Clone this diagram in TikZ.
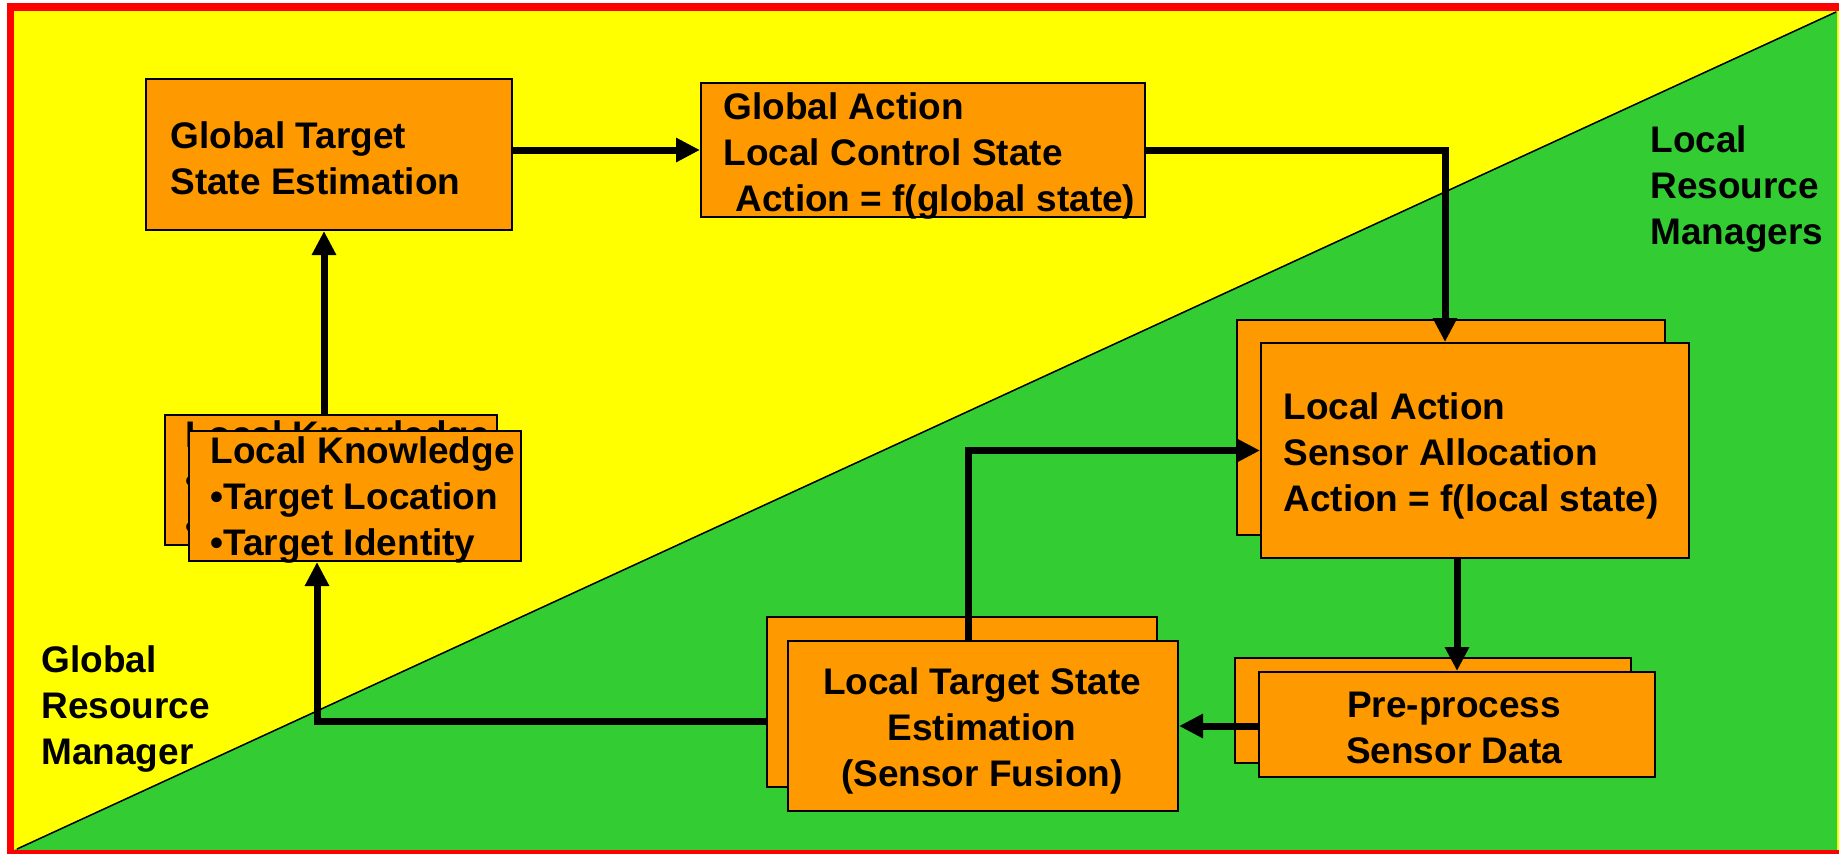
\documentclass[tikz,border=0pt]{standalone}
\usepackage{fontspec}
\setmainfont{Liberation Sans}
\usetikzlibrary{arrows.meta}
\definecolor{bgyellow}{HTML}{FFFF00}
\definecolor{bggreen}{HTML}{33CC33}
\definecolor{boxorange}{HTML}{FF9900}
\definecolor{framered}{HTML}{FF0000}
\begin{document}
\begin{tikzpicture}[x=0.5pt,y=-0.5pt,
  box/.style={draw=black, line width=1pt, fill=boxorange, inner sep=0pt},
  txt/.style={inner sep=0pt, text=black, font=\fontsize{18.5pt}{23pt}\selectfont\bfseries},
  conn/.style={line width=3.5pt, draw=black, -{Triangle[length=12pt,width=11.5pt]}},
  ]
\useasboundingbox (0,0) rectangle (1839,853);
\begin{scope}
  \clip (0,0) rectangle (1839,853);
  \fill[bgyellow] (14,11) rectangle (1839,850);
  \fill[bggreen] (14,850) -- (1837,850) -- (1837,11) -- cycle;
  \draw[black, line width=0.75pt] (17,849) -- (1836,12);
  \draw[framered, line width=3.75pt] (10.5,7) rectangle (1842.5,853.5);
\end{scope}

% region labels
\node[txt, anchor=west, align=left] (grm) at (41,709) {Global\\Resource\\Manager};
\node[txt, anchor=west, align=left] (lrm) at (1650,189) {Local\\Resource\\Managers};

% Global Target State Estimation
\node[box, minimum width=183pt, minimum height=75.5pt] (gt) at (329,154.5) {};
\node[txt, anchor=west, align=left] (gtt) at (170,158) {Global Target\\State Estimation};

% Global Action
\node[box, minimum width=222pt, minimum height=67pt] (ga) at (923,150) {};
\node[txt, anchor=west, align=left] (gat) at (723,156) {Global Action\\Local Control State\\\hspace*{6pt}Action = f(global state)};

% Local Knowledge stack
\node[box, minimum width=166pt, minimum height=65pt] (lkb) at (330.5,480) {};
\node[txt, anchor=west, align=left] (lkbt) at (185.5,483.5) {Local Knowledge\\\textbullet Target Location\\\textbullet Target Identity};
\node[box, minimum width=166pt, minimum height=65pt] (lk) at (355,496) {};
\node[txt, anchor=west, align=left] (lkt) at (210,500) {Local Knowledge\\\textbullet Target Location\\\textbullet Target Identity};

% Local Action stack
\node[box, minimum width=214pt, minimum height=107.5pt] (lab) at (1451,427) {};
\node[txt, anchor=west, align=left] (labt) at (1259,432) {Local Action\\Sensor Allocation\\Action = f(local state)};
\node[box, minimum width=214pt, minimum height=107.5pt] (la) at (1475,450.5) {};
\node[txt, anchor=west, align=left] (lat) at (1283,456) {Local Action\\Sensor Allocation\\Action = f(local state)};

% Local Target State Estimation stack
\node[box, minimum width=195pt, minimum height=85pt] (ltb) at (962,702) {};
\node[box, minimum width=195pt, minimum height=85pt] (lt) at (983,726) {};
\node[txt, align=center] (ltt) at (982,730.5) {Local Target State\\Estimation\\(Sensor Fusion)};

% Pre-process stack
\node[box, minimum width=198pt, minimum height=52.5pt] (ppb) at (1433,710.5) {};
\node[box, minimum width=198pt, minimum height=52.5pt] (pp) at (1457,724.5) {};
\node[txt, align=center] (ppt) at (1454,728) {Pre-process\\Sensor Data};

% connectors
\coordinate (gtin) at ([xshift=-2.5pt]gt.south);
\draw[conn] (gtin |- lkb.north) -- (gtin);
\draw[conn] (gt.east |- ga.west) -- (ga.west);
\coordinate (lain) at ([xshift=-15pt]la.north);
\draw[conn] (ga.east) -| (lain);
\draw[conn] (pp.north |- la.south) -- (pp.north);
\draw[conn] (pp.west |- lt.east) -- (lt.east);
\coordinate (ltout) at ([xshift=-7.5pt]lt.north);
\draw[conn] (ltout) |- (la.west);
\coordinate (ltleft) at ([yshift=-9.5pt]ltb.west);
\coordinate (lkin) at ([xshift=-19pt]lk.south);
\draw[conn] (ltleft) -| (lkin);
\end{tikzpicture}
\end{document}
